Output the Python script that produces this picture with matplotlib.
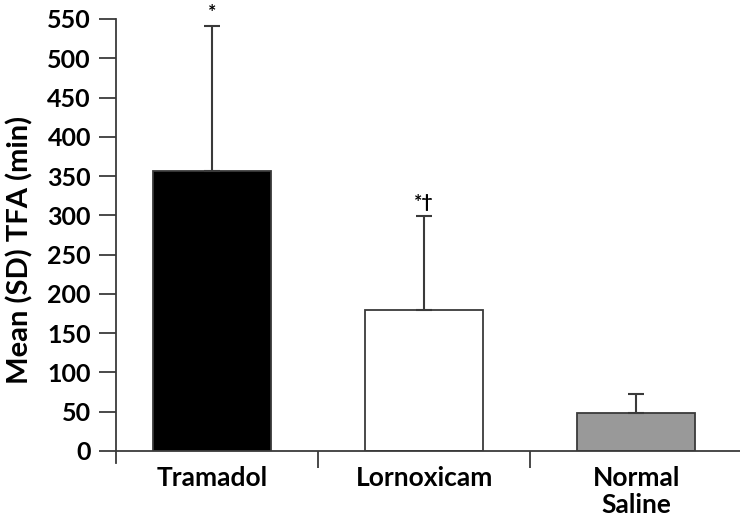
import matplotlib
matplotlib.use("Agg")
import matplotlib.pyplot as plt
from matplotlib.ticker import FixedLocator

categories = ["Tramadol", "Lornoxicam", "Normal\nSaline"]
means = [356, 179, 49]
sds = [185, 120, 24]
annotations = ["*", "*\u2020", ""]
bar_colors = ["#000000", "#ffffff", "#999999"]
yticks = list(range(0, 551, 50))

plt.rcParams['font.family'] = ['Lato', 'DejaVu Sans']
plt.rcParams['font.weight'] = 'bold'

fig = plt.figure(figsize=(7.4, 5.18), dpi=100)
ax = fig.add_axes([116/740, 67/518, 1 - 116/740, 432/518])

edge = "#3a3a3a"
x = list(range(len(categories)))
ax.bar(x, means, width=0.557, color=bar_colors, edgecolor=edge, linewidth=1.3,
       yerr=[[0]*len(sds), sds], capsize=5.5,
       error_kw=dict(ecolor=edge, elinewidth=1.5, capthick=1.5), zorder=2)

for xi, m, s, a in zip(x, means, sds, annotations):
    if a:
        ax.annotate(a, (xi, m + s), xytext=(0, 6), textcoords="offset points",
                    ha="center", va="baseline", fontsize=14, fontweight="bold")

ax.set_xlim(-0.453, 2.49)
ax.set_ylim(0, 550)
ax.set_yticks(yticks)
ax.set_xticks(x)
ax.set_xticklabels(categories, fontsize=19, fontweight="bold", linespacing=1.15)
ax.tick_params(axis="x", which="major", length=0, pad=11)
ax.xaxis.set_minor_locator(FixedLocator([0.5, 1.5]))
ax.tick_params(axis="x", which="minor", length=12, width=1.3, color=edge, direction="out")
ax.tick_params(axis="y", length=12, width=1.3, color=edge, labelsize=18, pad=6)
for lab in ax.get_yticklabels():
    lab.set_fontweight("bold")

ax.spines["top"].set_visible(False)
ax.spines["right"].set_visible(False)
ax.spines["left"].set_color(edge)
ax.spines["bottom"].set_color(edge)
ax.spines["left"].set_linewidth(1.3)
ax.spines["bottom"].set_linewidth(1.3)
ax.spines["left"].set_bounds(-12*550/432, 550)

ax.set_ylabel("Mean (SD) TFA (min)", fontsize=21, fontweight="bold")
ax.yaxis.set_label_coords(-0.133, 0.465)

fig.savefig("out.png", dpi=100)
